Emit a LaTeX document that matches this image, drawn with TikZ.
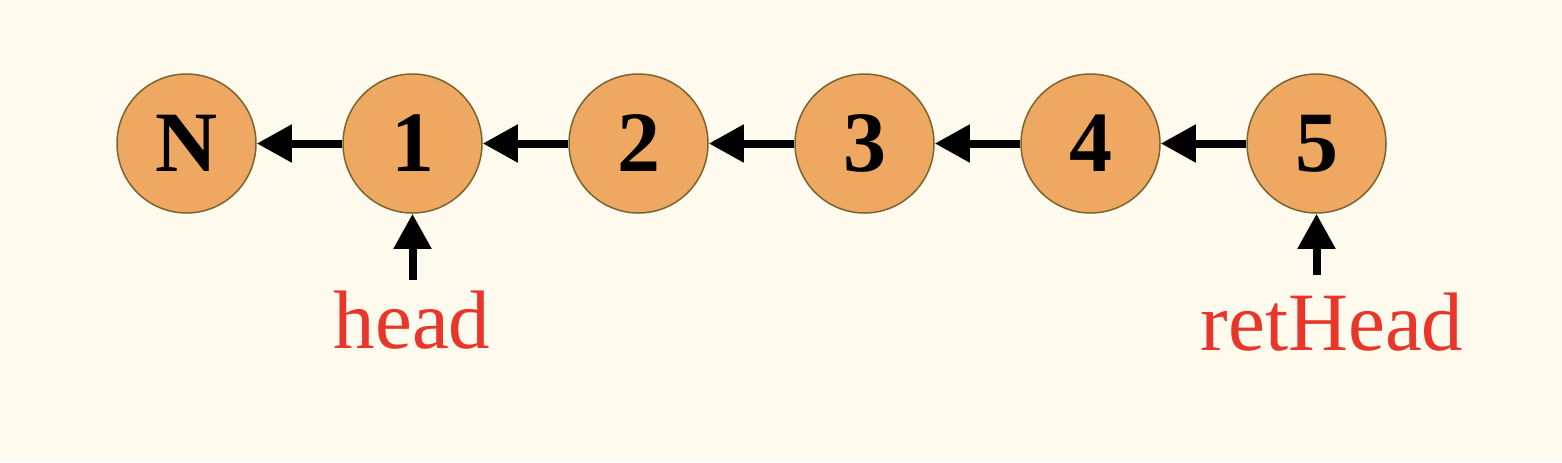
\documentclass[tikz,border=0pt]{standalone}
\usepackage{fontspec}
\setmainfont{Liberation Serif}
\usetikzlibrary{arrows.meta}
\definecolor{paper}{HTML}{FEFAEE}
\definecolor{nodefill}{HTML}{EEA862}
\definecolor{nodeline}{HTML}{7A6530}
\definecolor{ptrred}{HTML}{E8362A}
\tikzstyle{vertex}=[circle, draw=nodeline, fill=nodefill, line width=0.75pt,
    inner sep=0pt, minimum size=69.5pt, font=\bfseries\fontsize{43}{50}\selectfont]
\tikzstyle{ptrlabel}=[anchor=base, inner sep=0pt, text=ptrred, font=\fontsize{41.5}{50}\selectfont]
\newcommand{\vertex}{\node[vertex]}
\begin{document}
\begin{tikzpicture}[x=0.5pt, y=-0.5pt
    ,every edge/.style={draw, line width=4pt,
        -{Triangle[length=17.5pt,width=18pt]}}
]
\fill[paper] (0,0) rectangle (1562,462);
\useasboundingbox (0,0) rectangle (1562,462);
\foreach \n [count=\i from 0] in {N,1,2,3,4,5}
    \vertex (v\i) at ({186.5+226*\i},143.5) {\n};
\path
(v1) edge (v0)
(v2) edge (v1)
(v3) edge (v2)
(v4) edge (v3)
(v5) edge (v4)
;
% pointers
\coordinate (h) at (412.5,280);
\coordinate (r) at (1316.5,275);
\node[ptrlabel] (head) at (412,348) {head};
\node[ptrlabel] (retHead) at (1332,350) {retHead};
\path
(h) edge (v1.south)
(r) edge (v5.south)
;
\end{tikzpicture}
\end{document}
